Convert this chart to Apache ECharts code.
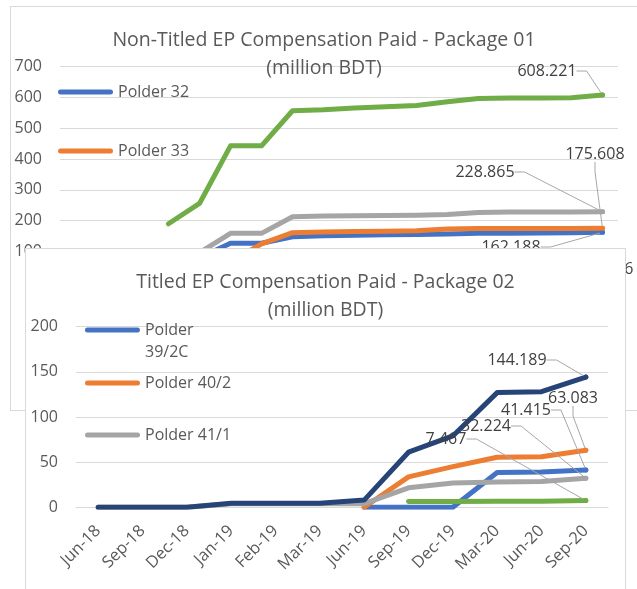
<!DOCTYPE html>
<html>
<head>
<meta charset="utf-8">
<script src="https://cdn.jsdelivr.net/npm/echarts@6.0.0/dist/echarts.min.js"></script>
<style>
html,body{margin:0;padding:0;width:637px;height:589px;overflow:hidden;background:#fff;}
#pkg1{position:absolute;left:10px;top:6px;width:626px;height:403px;border:1px solid #d9d9d9;background:#fff;}
#pkg2{position:absolute;left:25px;top:248px;width:599px;height:350px;border:1px solid #d9d9d9;background:#fff;}
</style>
</head>
<body>
<div id="pkg1"></div>
<div id="pkg2"></div>
<script>
// Package 01 (back chart)
var cats1 = ['Jun-17','Sep-17','Dec-17','Mar-18','Jun-18','Sep-18','Dec-18','Jan-19','Feb-19','Mar-19','Apr-19','May-19','Jun-19','Sep-19','Dec-19','Mar-20','Jun-20','Sep-20'];
var p32 = [null,null,null,50,80,127,127,148,151,153,154,155,157,159,159,160,161,162.188];
var p33 = [null,null,null,40,55,66,125,161,163,165,166,167,173,175,175,175,175,175.608];
var p34 = [null,null,null,60,96,159,159,213,215,216,217,218,220,227,228,228,228,228.865];
var p35 = [null,null,null,20,25,30,32,35,36,37,38,38,39,40,40,41,41,41.56];
var tot1 = [null,null,null,190,256,443,443,557,560,566,570,574,586,597,598,598,599,608.221];
var ticks1 = [0,700,100];

// Package 02 (front chart)
var cats2 = ['Jun-18','Sep-18','Dec-18','Jan-19','Feb-19','Mar-19','Jun-19','Sep-19','Dec-19','Mar-20','Jun-20','Sep-20'];
var p392c = [null,null,null,null,null,null,0,0,0,38.5,39,41.415];
var p402 = [null,null,null,null,null,null,0,33.7,45,55.5,56,63.083];
var p411 = [0,0,0,4,4,4,4,21.6,27,28,28.5,32.224];
var p421 = [null,null,null,null,null,null,null,6.3,6.5,6.7,6.8,7.467];
var tot2 = [0,0,0,4.5,4.5,4.5,8,61,79,127,128,144.189];
var ticks2 = [0,200,50];

var ff = "'Open Sans', sans-serif";
var txt = '#595959';
var grd = '#d9d9d9';

// where the end labels sit (chart px)
var lab1 = {'Polder 32':[500,240],'Polder 33':[584,147],'Polder 34':[474,165],'Polder 35':[602,262],'Total':[536,64]};
var lab2 = {'Polder 39/2C':[500,161],'Polder 40/2':[547,149],'Polder 41/1':[460,177],'Polder 42/1':[420,190],'Total':[491,111]};

// legend icons: rounded bar, and the same bar lifted onto the first of two text lines
var bar = 'path://M2.5,0H52.5A2.5,2.5,0,0,1,52.5,5H2.5A2.5,2.5,0,0,1,2.5,0Z';
var barTop = 'path://M2.5,0H52.5A2.5,2.5,0,0,1,52.5,5H2.5A2.5,2.5,0,0,1,2.5,0ZM0,27H0.01V27.01H0Z';

function mk(name, data, color, labPos){
	var p = labPos[name];
	return {
		name: name,
		type: 'line',
		data: data.map(function(v, i){
			if (i === data.length - 1) return {value: v, symbol: 'circle', symbolSize: 5, label: {show: true}};
			return v;
		}),
		symbol: 'none',
		showSymbol: true,
		showAllSymbol: true,
		lineStyle: {color: color, width: 5, cap: 'round', join: 'round'},
		itemStyle: {color: color},
		label: {show: false, color: '#404040', fontSize: 16, fontFamily: ff},
		labelLine: {show: true, length2: 10, lineStyle: {color: '#a6a6a6', width: 1}},
		labelLayout: function(){
			return {x: p[0], y: p[1], align: 'center', verticalAlign: 'middle'};
		},
		emphasis: {disabled: true},
		animation: false
	};
}

function lg(name, color, left, top, h, icon, fmt){
	var o = {
		data: [{name: name, icon: icon, itemStyle: {color: color, borderWidth: 0}}],
		left: left, top: top,
		padding: 0,
		itemWidth: 55, itemHeight: h,
		selectedMode: false,
		textStyle: {fontFamily: ff, fontSize: 16, color: txt, lineHeight: 22}
	};
	if (fmt) o.formatter = fmt;
	return o;
}

function yAx(t){
	return {
		type: 'value', min: t[0], max: t[1], interval: t[2],
		axisLine: {show: false}, axisTick: {show: false},
		axisLabel: {color: txt, fontSize: 16, fontFamily: ff, margin: 18},
		splitLine: {lineStyle: {color: grd, width: 1}}
	};
}

function xAx(c){
	return {
		type: 'category', data: c, boundaryGap: true,
		axisTick: {show: false},
		axisLine: {lineStyle: {color: grd, width: 1}},
		axisLabel: {color: txt, fontSize: 16.5, fontFamily: ff, rotate: 45, interval: 0, margin: 21}
	};
}

var chart1 = echarts.init(document.querySelector('#pkg1'));
chart1.setOption({
	animation: false,
	title: {
		text: 'Non-Titled EP Compensation Paid - Package 01\n(million BDT)',
		left: 'center', top: 19, padding: 0,
		textStyle: {fontFamily: ff, fontSize: 19.5, fontWeight: 'normal', color: txt, lineHeight: 28}
	},
	legend: [
		lg('Polder 32', '#4472C4', 47, 74, 14, bar),
		lg('Polder 33', '#ED7D31', 47, 133, 14, bar)
	],
	grid: {left: 49, right: 19, top: 59.7, bottom: 127.7},
	xAxis: xAx(cats1),
	yAxis: yAx(ticks1),
	series: [
		mk('Polder 32', p32, '#4472C4', lab1),
		mk('Polder 33', p33, '#ED7D31', lab1),
		mk('Polder 34', p34, '#A5A5A5', lab1),
		mk('Polder 35', p35, '#FFC000', lab1),
		mk('Total', tot1, '#70AD47', lab1)
	]
});

var chart2 = echarts.init(document.querySelector('#pkg2'));
chart2.setOption({
	animation: false,
	title: {
		text: 'Titled EP Compensation Paid - Package 02\n(million BDT)',
		left: 'center', top: 19, padding: 0,
		textStyle: {fontFamily: ff, fontSize: 19.5, fontWeight: 'normal', color: txt, lineHeight: 28}
	},
	legend: [
		lg('Polder 39/2C', '#4472C4', 59, 70, 27, barTop, function(){ return 'Polder\n39/2C'; }),
		lg('Polder 40/2', '#ED7D31', 59, 123, 14, bar),
		lg('Polder 41/1', '#A5A5A5', 59, 175, 14, bar)
	],
	grid: {left: 50, right: 17, top: 77.7, bottom: 91.7},
	xAxis: xAx(cats2),
	yAxis: yAx(ticks2),
	series: [
		mk('Polder 39/2C', p392c, '#4472C4', lab2),
		mk('Polder 40/2', p402, '#ED7D31', lab2),
		mk('Polder 41/1', p411, '#A5A5A5', lab2),
		mk('Polder 42/1', p421, '#70AD47', lab2),
		mk('Total', tot2, '#264478', lab2)
	]
});
</script>
</body>
</html>
